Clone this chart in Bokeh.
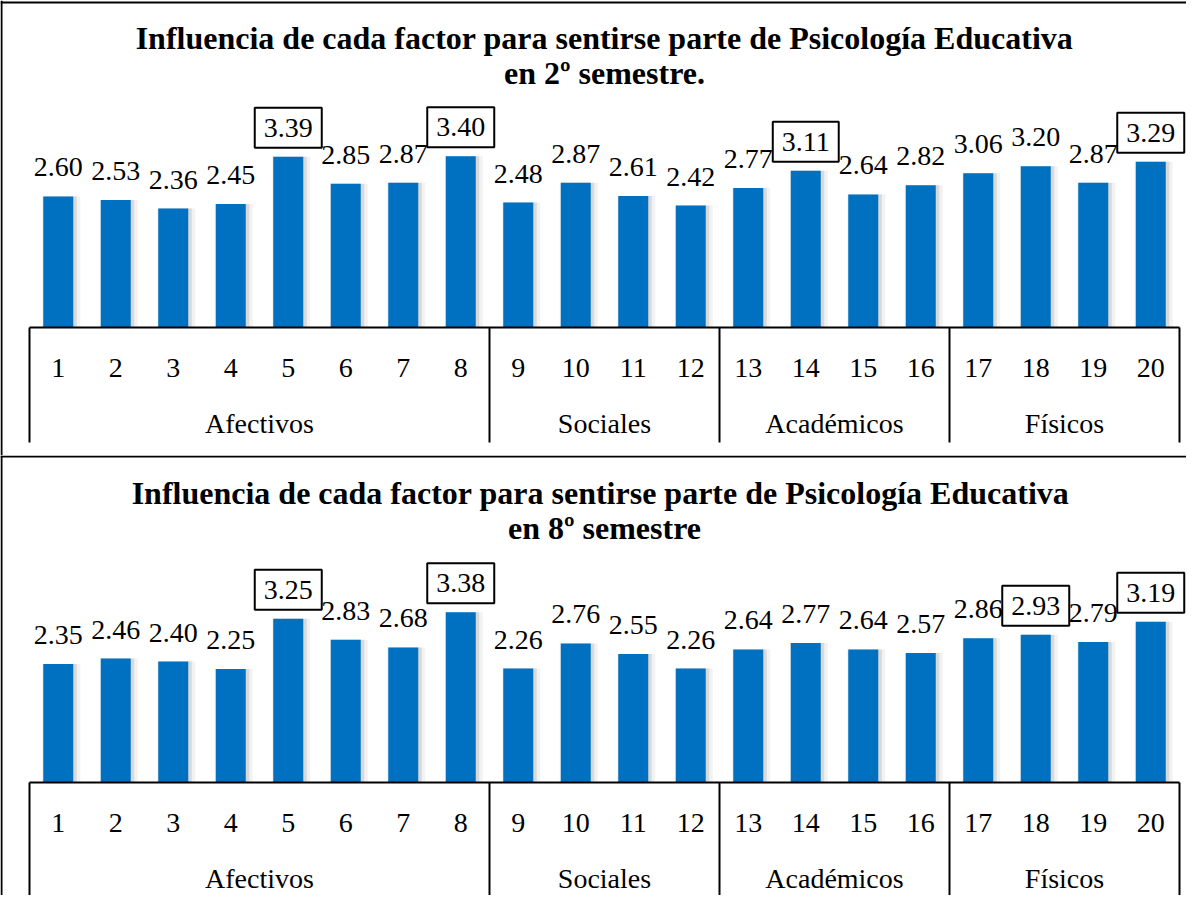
from bokeh.plotting import figure
from bokeh.layouts import column
from bokeh.models import Range1d, Span
from bokeh.core.properties import value
from bokeh.embed import file_html
from bokeh.resources import INLINE

# ---------------- data ----------------
categories = [str(i) for i in range(1, 21)]
group_names = ["Afectivos", "Sociales", "Académicos", "Físicos"]
group_sizes = [8, 4, 4, 4]

values_2 = [2.60, 2.53, 2.36, 2.45, 3.39, 2.85, 2.87, 3.40, 2.48, 2.87,
            2.61, 2.42, 2.77, 3.11, 2.64, 2.82, 3.06, 3.20, 2.87, 3.29]
values_8 = [2.35, 2.46, 2.40, 2.25, 3.25, 2.83, 2.68, 3.38, 2.26, 2.76,
            2.55, 2.26, 2.64, 2.77, 2.64, 2.57, 2.86, 2.93, 2.79, 3.19]
boxed_2 = ["5", "8", "14", "20"]
boxed_8 = ["5", "8", "18", "20"]
title_2 = ["Influencia de cada factor para sentirse parte de Psicología Educativa",
           "en 2º semestre."]
title_8 = ["Influencia de cada factor para sentirse parte de Psicología  Educativa",
           "en 8º semestre"]

# ---------------- layout constants (pixels) ----------------
PAGE_W = 1186
SLOT = 57.5          # px per category
UNIT = 50.4          # px per value unit
AXIS_LEFT = 29       # px from frame left to start of category axis
BASE_FROM_TOP = 327  # px from figure top to bar baseline
FONT = value("'Liberation Serif', 'Times New Roman', serif")
BLUE = "#0070C0"
FS = "28px"


def make_panel(vals, boxed, title_lines, height, top_border):
    n = len(categories)
    x_start = -AXIS_LEFT / SLOT
    x_end = (PAGE_W - AXIS_LEFT) / SLOT
    y_end = BASE_FROM_TOP / UNIT
    y_start = -(height - BASE_FROM_TOP) / UNIT

    p = figure(width=PAGE_W, height=height,
               x_range=Range1d(x_start, x_end), y_range=Range1d(y_start, y_end),
               output_backend="svg", toolbar_location=None,
               x_axis_type=None, y_axis_type=None,
               min_border=0, outline_line_color=None,
               background_fill_color="white", border_fill_color="white")

    xs = [i + 0.5 for i in range(n)]

    # soft shadow
    p.vbar(x=[x + 3 / SLOT for x in xs], top=vals, width=38 / SLOT,
           fill_color="#808080", fill_alpha=0.10, line_color=None)
    p.vbar(x=[x + 2 / SLOT for x in xs], top=vals, width=33 / SLOT,
           fill_color="#808080", fill_alpha=0.22, line_color=None)
    # bars
    p.vbar(x=xs, top=vals, width=30 / SLOT, fill_color=BLUE, line_color=None)

    # value labels
    plain_x = [x for x, c in zip(xs, categories) if c not in boxed]
    plain_y = [v for v, c in zip(vals, categories) if c not in boxed]
    plain_t = ["%.2f" % v for v, c in zip(vals, categories) if c not in boxed]
    p.text(x=plain_x, y=plain_y, text=plain_t, y_offset=-29,
           text_font=FONT, text_font_size=FS, text_color="black",
           text_align="center", text_baseline="middle")
    box_x = [x for x, c in zip(xs, categories) if c in boxed]
    box_y = [v for v, c in zip(vals, categories) if c in boxed]
    box_t = ["%.2f" % v for v, c in zip(vals, categories) if c in boxed]
    p.text(x=box_x, y=box_y, text=box_t, y_offset=-29,
           text_font=FONT, text_font_size=FS, text_color="black",
           text_align="center", text_baseline="middle",
           border_line_color="black", border_line_width=2,
           background_fill_color="white",
           padding=dict(left=9, right=9, top=11, bottom=11))

    # category axis box
    bounds = [0]
    for s in group_sizes:
        bounds.append(bounds[-1] + s)
    depth = -115 / UNIT
    p.segment(x0=[0], y0=[0], x1=[n], y1=[0], line_color="black", line_width=2)
    p.segment(x0=bounds, y0=[0] * len(bounds), x1=bounds, y1=[depth] * len(bounds),
              line_color="black", line_width=2)
    p.text(x=xs, y=[0] * n, text=categories, y_offset=40,
           text_font=FONT, text_font_size=FS, text_color="black",
           text_align="center", text_baseline="middle")
    gx = [(bounds[i] + bounds[i + 1]) / 2 for i in range(len(group_sizes))]
    p.text(x=gx, y=[0] * len(gx), text=group_names, y_offset=96,
           text_font=FONT, text_font_size=FS, text_color="black",
           text_align="center", text_baseline="middle")

    # title
    p.text(x=[n / 2, n / 2], y=[290 / UNIT, 255 / UNIT], text=title_lines,
           text_font=FONT, text_font_size="32px", text_font_style="bold",
           text_color="black", text_align="center", text_baseline="middle")

    # panel borders (left and top)
    p.add_layout(Span(location=x_start + 1 / SLOT, dimension="height",
                      line_color="black", line_width=2))
    p.add_layout(Span(location=y_end - top_border / UNIT, dimension="width",
                      line_color="black", line_width=2))
    return p


p1 = make_panel(values_2, boxed_2, title_2, 455, 2)
p2 = make_panel(values_8, boxed_8, title_8, 440, 1)
layout = column(p1, p2, spacing=0)

open("out.html", "w").write(file_html(layout, INLINE))
